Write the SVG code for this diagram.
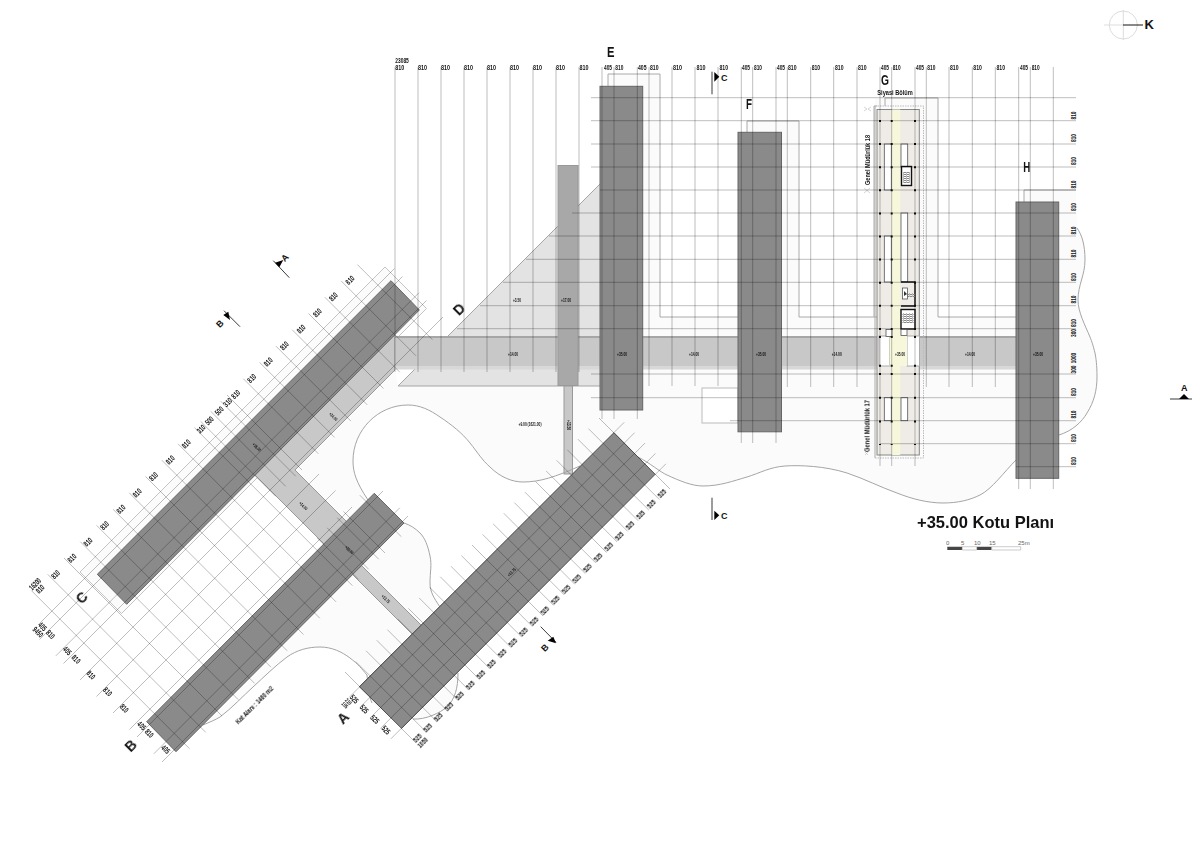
<svg xmlns="http://www.w3.org/2000/svg" width="1200" height="856" viewBox="0 0 1200 856">
<style>
text{font-family:"Liberation Sans",Arial,sans-serif;fill:#111}
#dims-top,#dims-right,#dims-c,#dims-a,#dims-end,#levels,#names,#axis-letters,#section-marks,#compass,#scale{opacity:.99}
.d{font-size:8px;font-weight:700}
.r{font-size:11.3px;font-weight:700;text-anchor:middle}
.h{font-size:14px;font-weight:700}
.t{font-size:4.5px;font-weight:700;text-anchor:middle}
.s{font-size:9px;font-weight:700}
.g{fill:none;stroke:#000;stroke-opacity:.26;stroke-width:1}
.ab{vector-effect:non-scaling-stroke}
.b{fill:#8a8a8a;stroke:#666;stroke-width:1}
.c{fill:#c8c8c8;stroke:#999;stroke-width:1;vector-effect:non-scaling-stroke}
.e{fill:none;stroke:#a5a5a5;stroke-width:1}
.o{fill:none;stroke:#aaa;stroke-width:1}
.w{fill:#fff;stroke:#555;stroke-width:.8}
.k{fill:#fff;stroke:#111;stroke-width:1.4}
.m{fill:none;stroke:#bbb;stroke-width:.6}
.sec{stroke:#222;stroke-width:.9;fill:none}
</style>
<defs>
<pattern id="st" width="3" height="2" patternUnits="userSpaceOnUse"><rect width="3" height="1" fill="#888"/><rect width="1" height="2" fill="#bbb"/></pattern>
</defs>
<rect width="1200" height="856" fill="#fff"/>

<g id="site">
<path fill="#fbfbfb" d="M203 725C210 722 215 720 220 717C232 708 243 696 253 687C265 676 275 666 287 657C297 650 308 647 320 647C332 647 342 652 350 658C358 664 362 669 367 675C368 685 369 697 372 703L400 728L413 719C425 720 440 713 447 707C455 699 458 688 458 673L640 470L638 457C650 463 660 472 667 475C680 481 692 486 703 486C720 486 733 481 747 477C760 473 770 467 785 466C800 465 825 466 847 473C865 479 880 487 897 493C912 499 928 503 943 503C958 503 970 500 980 495C992 489 1004 472 1016 460L1059 435C1072 431 1082 422 1087 413C1094 402 1097 390 1097 377C1097 365 1096 358 1095 353C1093 345 1092 342 1090 337C1085 325 1078 312 1078 300C1078 285 1085 275 1085 260C1085 245 1082 235 1077 228L1076 190L1024 190L1024 202L1016 202L1016 317L938 317L938 98L875 98L875 317L799 317L799 121L747 121L747 132L738 132L738 317L660 317L660 74L608 74L608 86L600 86L600 184L398 386L395 370L295 470L347 522Z"/>
<path fill="#fff" d="M368 500C356 482 353 472 353 461C353 430 378 405 408 405C420 405 430 410 440 417C452 425 462 433 470 443C478 453 482 460 490 467C500 477 512 482 523 482C540 482 555 477 580 466L440 607C434 598 430 592 430 583C430 572 432 565 430 556C428 546 425 538 420 533C415 528 410 525 404 523L374 493Z"/>
<g transform="matrix(.5,.5,.5,-.5,0,0)"><polygon points="652,118 735,118 735,-492 652,-492" fill="#fbfbfb" stroke="#c4c4c4" vector-effect="non-scaling-stroke"/></g>
<polygon points="600,184 398,386 600,386" fill="#e3e3e3"/>
<path class="e" d="M600 184L398 386H600"/>
<rect x="702" y="388" width="36" height="35" fill="#fff" stroke="#bbb"/>
<path class="o" d="M608 86V74H660V317H738M747 132V121H799V317H877M874 106V317M877 106H874M885 106V98H938V317H1016M1024 202V190H1076"/>
</g>

<g id="walkways">
<g transform="matrix(.5,.5,.5,-.5,0,0)">
<polygon class="c" points="730,60 765,25 765,-175 870,-175 870,-220 730,-220"/>
<polygon class="c" points="927,-204 1047,-204 1047,-222 927,-222"/>
</g>
<rect x="395" y="366" width="621" height="3.500" fill="#d8d8d8"/>
<rect x="395" y="336" width="621" height="30" fill="#c8c8c8"/>
<rect x="395" y="336" width="621" height="2" fill="#a6a6a6"/>
<rect x="558" y="165.500" width="20" height="220" fill="#a8a8a8" stroke="#999"/>
<rect x="564" y="386" width="8.500" height="88" fill="#c8c8c8" stroke="#999"/>
</g>

<g id="site-edges">
<path class="e" d="M638 457C650 463 660 472 667 475C680 481 692 486 703 486C720 486 733 481 747 477C760 473 770 467 785 466C800 465 825 466 847 473C865 479 880 487 897 493C912 499 928 503 943 503C958 503 970 500 980 495C992 489 1004 472 1016 460"/>
<path class="e" d="M1059 435C1072 431 1082 422 1087 413C1094 402 1097 390 1097 377C1097 365 1096 358 1095 353C1093 345 1092 342 1090 337C1085 325 1078 312 1078 300C1078 285 1085 275 1085 260C1085 245 1082 235 1077 228"/>
<path class="e" d="M368 500C356 482 353 472 353 461C353 430 378 405 408 405C420 405 430 410 440 417C452 425 462 433 470 443C478 453 482 460 490 467C500 477 512 482 523 482C540 482 555 477 580 466"/>
<path class="e" d="M440 607C434 598 430 592 430 583C430 572 432 565 430 556C428 546 425 538 420 533C415 528 410 525 404 523"/>
<path class="e" d="M203 725C210 722 215 720 220 717C232 708 243 696 253 687C265 676 275 666 287 657C297 650 308 647 320 647C332 647 342 652 350 658C358 664 362 669 367 675C368 685 369 697 372 703"/>
<path class="e" d="M413 719C425 720 440 713 447 707C455 699 458 688 458 673"/>
</g>

<g id="block-c"><polygon class="b" points="391,280.700 419.300,310 126.700,604.300 97.300,574.300"/></g>
<g id="block-b"><polygon class="b" points="374.300,493.300 404,523 176,751.700 146.700,721.700"/></g>
<g id="block-a"><polygon class="b" points="614,432.700 655,474.300 401.700,728.300 359.300,686.700"/></g>
<g id="block-e"><rect class="b" x="600" y="86.300" width="42.700" height="323.700"/></g>
<g id="block-f"><rect class="b" x="738" y="132.300" width="43.500" height="299.500"/></g>
<g id="block-h"><rect class="b" x="1016" y="202" width="42.700" height="276.300"/></g>

<g id="block-g">
<rect x="877" y="109.500" width="42.300" height="345.500" fill="#efebe6" stroke="#888"/>
<rect x="891.700" y="109.500" width="8.500" height="345.500" fill="#f7f7dc"/>
<path d="M875 106V458" stroke="#aaa" fill="none"/>
<path d="M875 106H923.500V458H875" stroke="#bbb" stroke-dasharray="1.500 1" fill="none"/>
<rect x="879" y="336" width="10.500" height="30" fill="#fff" stroke="#aaa"/>
<rect x="907" y="336" width="12.500" height="30" fill="#fff" stroke="#aaa"/>
<rect x="889.500" y="336" width="17.500" height="30" fill="#f7f7dc"/>
<rect class="w" x="884.300" y="144" width="7" height="46"/>
<rect class="w" x="901" y="144" width="6.700" height="23"/>
<rect class="k" x="901.500" y="166.500" width="10" height="19"/>
<rect x="903" y="172" width="7" height="11" fill="url(#st)"/>
<rect class="w" x="901" y="213" width="6.700" height="69"/>
<rect class="w" x="884.300" y="236" width="7" height="46"/>
<path d="M901 282H915V306H901" fill="#efebe6" stroke="#111" stroke-width="1.400"/>
<rect class="w" x="902.500" y="288" width="5" height="11"/>
<path d="M904 291L907 294L904 296Z" fill="#333"/>
<rect x="908" y="293" width="7" height="4" fill="url(#st)"/>
<rect class="k" x="901" y="309.500" width="14" height="19.500"/>
<rect x="902.500" y="313" width="11" height="10" fill="url(#st)"/>
<rect class="w" x="886" y="329.500" width="6" height="7"/>
<rect class="w" x="901" y="329.500" width="6" height="6"/>
<rect class="w" x="884.300" y="397.700" width="7" height="23"/>
<rect class="w" x="901" y="397.700" width="6.700" height="23"/>
<path stroke="#111" stroke-width="2" stroke-dasharray="2 21.100" fill="none" d="M880 120V330M891.700 120V330M915 120V330"/>
<path stroke="#111" stroke-width="2" stroke-dasharray="2 21.700" fill="none" d="M880 373V445M891.700 373V445M915 373V445"/>
<path stroke="#111" stroke-width="2" fill="none" d="M879 365.700h2M890.700 365.700h2M914 365.700h2M879 337h2M890.700 337h2M914 337h2"/>
<path class="m" d="M864 107L867 109L864 111M871 107L868 109L871 111M864 188L870 193M870 188L864 193M865 452L868 455M868 452L865 455"/>
</g>

<g id="grid">
<path class="g" d="M395 67V372M418 67V372M441 67V372M464 67V372M487 67V372M510 67V372M533 67V372M556 67V372M579 67V372M602 67V419M614 67V419M637.300 67V419M649 67V386M672 67V386M695 67V386M718 67V386M741.300 67V443M752.700 67V443M776 67V443M787.300 67V387M810.700 67V387M833.700 67V387M857 67V387M880 67V466M891.700 67V466M915 67V466M926.300 67V387M949 67V387M972.300 67V387M995.300 67V387M1018.700 67V489M1030.300 67V489M1053.300 67V489"/>
<path class="g" d="M591 97.700H1076M591 120.700H1076M591 144H1076M591 167H1076M600 190H1076M572 213H1076M549 236H1076M526 259.300H1076M503 282.300H1076M480 305.700H1076M457 328.700H1076M591 374H1076M591 397.700H1076M730 420.700H1076M880 443.700H1076M1016 466.700H1076"/>
<g transform="matrix(.5,.5,.5,-.5,0,0)">
<path class="g ab" d="M663 -583V126M679 -600V126M711.700 -600V126M727 -600V126M760 -600V126M793 -600V-155M826 -600V-155M859 -600V-155M874 -600V-108M907.600 -600V-108M924 -600V-108"/>
<path class="g ab" d="M622 92.800H772M622 60.200H772M622 27.600H772M622 -5H772M622 -37.600H772M622 -70.200H772M622 -102.800H772M622 -135.400H772M855 -135.400H938M622 -168H772M855 -168H938M622 -180.500H772M855 -180.500H938M622 -200.600H772M855 -200.600H938M622 -220.700H772M855 -220.700H938M622 -233.200H938M622 -265.800H938M622 -298.400H938M622 -331H938M622 -363.600H938M622 -396.200H938M622 -428.800H938M622 -461.400H938M622 -494H938M622 -526.600H938M622 -559.200H938"/>
<path class="g ab" d="M1017 181H1159M1017 159.800H1159M1017 138.700H1159M1017 117.500H1159M1017 96.300H1159M1017 75.200H1159M1017 54H1159M1017 32.800H1159M1017 11.700H1159M1017 -9.500H1159M1017 -30.700H1159M1017 -51.800H1159M1017 -73H1159M1017 -94.200H1159M1017 -115.300H1159M1017 -136.500H1159M1017 -157.700H1159M1017 -178.800H1159M1017 -200H1159M1017 -221.200H1159M1017 -242.300H1159M1017 -263.500H1159M1017 -284.700H1159M1017 -305.800H1159M1017 -327H1159"/>
<path class="g ab" d="M1046.500 -348V202M1067.300 -348V202M1088.100 -348V202M1108.900 -348V202M1129.700 -348V202"/>
</g>
</g>

<g id="section-marks">
<path class="sec" d="M273.300 260.700L289.300 277.700M224 310.700L240 326.700M540.700 626.700L556 642.300M712 71.700V94.300M712 497.700V520M1170 399H1192"/>
<polygon points="275,262.700 283.300,260 279.300,267.300"/>
<polygon points="223.300,315 228.300,311.700 230,320"/>
<polygon points="547.700,640.700 553.300,636.700 556,643.300"/>
<polygon points="714.300,72 714.300,81.700 719.300,76.700"/>
<polygon points="714.300,510.700 714.300,520 719.300,515.300"/>
<polygon points="1179,399 1189,399 1184,394"/>
<text class="s" transform="translate(287 260) rotate(-45)" text-anchor="middle">A</text>
<text class="s" transform="translate(222 326) rotate(-45)" text-anchor="middle">B</text>
<text class="s" transform="translate(547 650) rotate(-45)" text-anchor="middle">B</text>
<text class="s" x="721" y="80.700">C</text>
<text class="s" x="721" y="519.300">C</text>
<text class="s" x="1181" y="391">A</text>
</g>

<g id="compass">
<circle cx="1123.300" cy="25" r="14" fill="none" stroke="#ddd"/>
<path d="M1104 25H1123M1123.300 10V40" stroke="#ddd" fill="none"/>
<path d="M1123 25H1143" stroke="#111" fill="none"/>
<text x="1144.500" y="29" style="font-size:13px;font-weight:700">K</text>
</g>

<g id="axis-letters">
<text class="h" x="607" y="56.700" textLength="7.500" lengthAdjust="spacingAndGlyphs">E</text>
<text class="h" x="746" y="109.300" textLength="6" lengthAdjust="spacingAndGlyphs">F</text>
<text class="h" x="881" y="84.500" textLength="8" lengthAdjust="spacingAndGlyphs">G</text>
<text class="h" x="1023.300" y="172.300" textLength="7" lengthAdjust="spacingAndGlyphs">H</text>
<text class="h" transform="translate(459 309.300) rotate(-45)" text-anchor="middle" dy="5">D</text>
<text class="h" transform="translate(81.700 597.700) rotate(-45)" text-anchor="middle" dy="5">C</text>
<text class="h" transform="translate(130.700 745.700) rotate(-45)" text-anchor="middle" dy="5">B</text>
<text class="h" transform="translate(343 718) rotate(-45)" text-anchor="middle" dy="5">A</text>
</g>

<g id="names">
<text x="877.300" y="95" style="font-size:8px;font-weight:700" textLength="35.500" lengthAdjust="spacingAndGlyphs">Siyasi Bölüm</text>
<text transform="translate(869.500 185) rotate(-90)" style="font-size:7.500px;font-weight:700" textLength="50" lengthAdjust="spacingAndGlyphs">Genel Müdürlük 18</text>
<text transform="translate(869.500 452) rotate(-90)" style="font-size:7.500px;font-weight:700" textLength="52" lengthAdjust="spacingAndGlyphs">Genel Müdürlük 17</text>
<text transform="translate(238.500 724.500) rotate(-45)" style="font-size:7px;font-weight:700" textLength="50" lengthAdjust="spacingAndGlyphs">Kat Alanı : 1460 m2</text>
<text x="917" y="528" style="font-size:16.500px;font-weight:700">+35.00 Kotu Planı</text>
</g>

<g id="scale">
<path fill="#444" d="M947.300 546.700H962.300V550H947.300ZM976.700 546.700H991.700V550H976.700Z"/>
<path fill="#fff" stroke="#aaa" stroke-width=".6" d="M962.300 546.700H976.700V550H962.300ZM991.700 546.700H1020.700V550H991.700Z"/>
<g style="font-size:6px">
<text x="946" y="545" style="fill:#666">0</text><text x="961" y="545" style="fill:#666">5</text><text x="974" y="545" style="fill:#666">10</text><text x="989" y="545" style="fill:#666">15</text><text x="1018" y="545" style="fill:#666">25m</text>
</g>
</g>

<g id="levels">
<text class="t" x="513" y="356" textLength="10" lengthAdjust="spacingAndGlyphs">+14.00</text>
<text class="t" x="622" y="356" textLength="10" lengthAdjust="spacingAndGlyphs">+35.00</text>
<text class="t" x="694" y="356" textLength="10" lengthAdjust="spacingAndGlyphs">+14.00</text>
<text class="t" x="761" y="356" textLength="10" lengthAdjust="spacingAndGlyphs">+35.00</text>
<text class="t" x="836.700" y="356" textLength="10" lengthAdjust="spacingAndGlyphs">+14.00</text>
<text class="t" x="900" y="356" textLength="10" lengthAdjust="spacingAndGlyphs">+35.00</text>
<text class="t" x="970" y="356" textLength="10" lengthAdjust="spacingAndGlyphs">+14.00</text>
<text class="t" x="1038" y="356" textLength="10" lengthAdjust="spacingAndGlyphs">+35.00</text>
<text class="t" x="517" y="302" textLength="8" lengthAdjust="spacingAndGlyphs">+3.50</text>
<text class="t" x="566" y="302" textLength="10" lengthAdjust="spacingAndGlyphs">+17.00</text>
<text class="t" x="530" y="426" textLength="23" lengthAdjust="spacingAndGlyphs">+9.00 (1621.00)</text>
<text class="t" transform="translate(568 425) rotate(90)" dy="1.500" textLength="10" lengthAdjust="spacingAndGlyphs">+13.50</text>
<text class="t" transform="translate(333.300 416.700) rotate(45)" dy="1.500" textLength="10" lengthAdjust="spacingAndGlyphs">+14.00</text>
<text class="t" transform="translate(256.700 447.300) rotate(45)" dy="1.500" textLength="10" lengthAdjust="spacingAndGlyphs">+35.00</text>
<text class="t" transform="translate(303.300 506) rotate(45)" dy="1.500" textLength="10" lengthAdjust="spacingAndGlyphs">+14.00</text>
<text class="t" transform="translate(349.300 550) rotate(45)" dy="1.500" textLength="10" lengthAdjust="spacingAndGlyphs">+35.00</text>
<text class="t" transform="translate(385.700 599) rotate(45)" dy="1.500" textLength="10" lengthAdjust="spacingAndGlyphs">+13.75</text>
<text class="t" transform="translate(511.700 572.300) rotate(-45)" dy="1.500" textLength="10" lengthAdjust="spacingAndGlyphs">+13.75</text>
</g>

<g id="dims-top">
<text class="d" x="395.300" y="62.700" textLength="13.500" lengthAdjust="spacingAndGlyphs">23085</text>
<text class="d" x="395.300" y="70" textLength="9" lengthAdjust="spacingAndGlyphs">810</text>
<text class="d" x="418" y="70" textLength="9" lengthAdjust="spacingAndGlyphs">810</text>
<text class="d" x="441" y="70" textLength="9" lengthAdjust="spacingAndGlyphs">810</text>
<text class="d" x="464" y="70" textLength="9" lengthAdjust="spacingAndGlyphs">810</text>
<text class="d" x="487" y="70" textLength="9" lengthAdjust="spacingAndGlyphs">810</text>
<text class="d" x="510" y="70" textLength="9" lengthAdjust="spacingAndGlyphs">810</text>
<text class="d" x="533" y="70" textLength="9" lengthAdjust="spacingAndGlyphs">810</text>
<text class="d" x="556" y="70" textLength="9" lengthAdjust="spacingAndGlyphs">810</text>
<text class="d" x="579.500" y="70" textLength="9" lengthAdjust="spacingAndGlyphs">810</text>
<text class="d" x="604" y="70" textLength="8" lengthAdjust="spacingAndGlyphs">405</text>
<text class="d" x="615.300" y="70" textLength="8" lengthAdjust="spacingAndGlyphs">810</text>
<text class="d" x="638" y="70" textLength="8.500" lengthAdjust="spacingAndGlyphs">405</text>
<text class="d" x="650" y="70" textLength="8.500" lengthAdjust="spacingAndGlyphs">810</text>
<text class="d" x="673" y="70" textLength="9" lengthAdjust="spacingAndGlyphs">810</text>
<text class="d" x="696.500" y="70" textLength="9" lengthAdjust="spacingAndGlyphs">810</text>
<text class="d" x="719.500" y="70" textLength="8.500" lengthAdjust="spacingAndGlyphs">810</text>
<text class="d" x="742" y="70" textLength="8" lengthAdjust="spacingAndGlyphs">405</text>
<text class="d" x="754" y="70" textLength="8" lengthAdjust="spacingAndGlyphs">810</text>
<text class="d" x="777" y="70" textLength="8" lengthAdjust="spacingAndGlyphs">405</text>
<text class="d" x="788" y="70" textLength="8.500" lengthAdjust="spacingAndGlyphs">810</text>
<text class="d" x="811.700" y="70" textLength="8.500" lengthAdjust="spacingAndGlyphs">810</text>
<text class="d" x="835" y="70" textLength="8.500" lengthAdjust="spacingAndGlyphs">810</text>
<text class="d" x="858" y="70" textLength="8.500" lengthAdjust="spacingAndGlyphs">810</text>
<text class="d" x="881" y="70" textLength="8" lengthAdjust="spacingAndGlyphs">405</text>
<text class="d" x="892.700" y="70" textLength="8" lengthAdjust="spacingAndGlyphs">810</text>
<text class="d" x="916" y="70" textLength="8" lengthAdjust="spacingAndGlyphs">405</text>
<text class="d" x="927.300" y="70" textLength="8" lengthAdjust="spacingAndGlyphs">810</text>
<text class="d" x="950" y="70" textLength="8.500" lengthAdjust="spacingAndGlyphs">810</text>
<text class="d" x="973.300" y="70" textLength="8.500" lengthAdjust="spacingAndGlyphs">810</text>
<text class="d" x="996.500" y="70" textLength="8.500" lengthAdjust="spacingAndGlyphs">810</text>
<text class="d" x="1020" y="70" textLength="8" lengthAdjust="spacingAndGlyphs">405</text>
<text class="d" x="1031.700" y="70" textLength="8" lengthAdjust="spacingAndGlyphs">810</text>
</g>

<g id="dims-right" transform="rotate(-90)">
<text class="d" text-anchor="middle" x="-115.500" y="1076" textLength="8" lengthAdjust="spacingAndGlyphs">810</text>
<text class="d" text-anchor="middle" x="-138" y="1076" textLength="8" lengthAdjust="spacingAndGlyphs">810</text>
<text class="d" text-anchor="middle" x="-161" y="1076" textLength="8" lengthAdjust="spacingAndGlyphs">810</text>
<text class="d" text-anchor="middle" x="-184.500" y="1076" textLength="8" lengthAdjust="spacingAndGlyphs">810</text>
<text class="d" text-anchor="middle" x="-207" y="1076" textLength="8" lengthAdjust="spacingAndGlyphs">810</text>
<text class="d" text-anchor="middle" x="-230.500" y="1076" textLength="8" lengthAdjust="spacingAndGlyphs">810</text>
<text class="d" text-anchor="middle" x="-253.500" y="1076" textLength="8" lengthAdjust="spacingAndGlyphs">810</text>
<text class="d" text-anchor="middle" x="-277" y="1076" textLength="8" lengthAdjust="spacingAndGlyphs">810</text>
<text class="d" text-anchor="middle" x="-299.500" y="1076" textLength="8" lengthAdjust="spacingAndGlyphs">810</text>
<text class="d" text-anchor="middle" x="-323" y="1076" textLength="8" lengthAdjust="spacingAndGlyphs">810</text>
<text class="d" text-anchor="middle" x="-333" y="1076" textLength="8" lengthAdjust="spacingAndGlyphs">300</text>
<text class="d" text-anchor="middle" x="-358" y="1076" textLength="10.500" lengthAdjust="spacingAndGlyphs">1000</text>
<text class="d" text-anchor="middle" x="-369.500" y="1076" textLength="8" lengthAdjust="spacingAndGlyphs">300</text>
<text class="d" text-anchor="middle" x="-392" y="1076" textLength="8" lengthAdjust="spacingAndGlyphs">810</text>
<text class="d" text-anchor="middle" x="-414.500" y="1076" textLength="8" lengthAdjust="spacingAndGlyphs">810</text>
<text class="d" text-anchor="middle" x="-438" y="1076" textLength="8" lengthAdjust="spacingAndGlyphs">810</text>
<text class="d" text-anchor="middle" x="-461" y="1076" textLength="8" lengthAdjust="spacingAndGlyphs">810</text>
</g>

<g id="dims-c" transform="rotate(-45) scale(.7071)">
<text class="r" x="70" y="634" textLength="12.500" lengthAdjust="spacingAndGlyphs">810</text>
<text class="r" x="36.600" y="634" textLength="12.500" lengthAdjust="spacingAndGlyphs">810</text>
<text class="r" x="4.600" y="634" textLength="12.500" lengthAdjust="spacingAndGlyphs">810</text>
<text class="r" x="-28" y="634" textLength="12.500" lengthAdjust="spacingAndGlyphs">810</text>
<text class="r" x="-61.400" y="634" textLength="12.500" lengthAdjust="spacingAndGlyphs">810</text>
<text class="r" x="-93.700" y="634" textLength="12.500" lengthAdjust="spacingAndGlyphs">810</text>
<text class="r" x="-126.600" y="634" textLength="12.500" lengthAdjust="spacingAndGlyphs">810</text>
<text class="r" x="-158.600" y="634" textLength="12.500" lengthAdjust="spacingAndGlyphs">810</text>
<text class="r" x="-174.600" y="634" textLength="12.500" lengthAdjust="spacingAndGlyphs">310</text>
<text class="r" x="-191.700" y="634" textLength="12.500" lengthAdjust="spacingAndGlyphs">500</text>
<text class="r" x="-211.400" y="634" textLength="12.500" lengthAdjust="spacingAndGlyphs">500</text>
<text class="r" x="-228" y="634" textLength="12.500" lengthAdjust="spacingAndGlyphs">310</text>
<text class="r" x="-257.700" y="634" textLength="12.500" lengthAdjust="spacingAndGlyphs">810</text>
<text class="r" x="-289.700" y="634" textLength="12.500" lengthAdjust="spacingAndGlyphs">810</text>
<text class="r" x="-323" y="634" textLength="12.500" lengthAdjust="spacingAndGlyphs">810</text>
<text class="r" x="-355.700" y="634" textLength="12.500" lengthAdjust="spacingAndGlyphs">810</text>
<text class="r" x="-388.300" y="634" textLength="12.500" lengthAdjust="spacingAndGlyphs">810</text>
<text class="r" x="-421" y="634" textLength="12.500" lengthAdjust="spacingAndGlyphs">810</text>
<text class="r" x="-454" y="634" textLength="12.500" lengthAdjust="spacingAndGlyphs">810</text>
<text class="r" x="-486.300" y="634" textLength="12.500" lengthAdjust="spacingAndGlyphs">810</text>
<text class="r" x="-519" y="634" textLength="12.500" lengthAdjust="spacingAndGlyphs">810</text>
<text class="r" x="-549" y="633" textLength="12.500" lengthAdjust="spacingAndGlyphs">810</text>
<text class="r" x="-549" y="623" textLength="19" lengthAdjust="spacingAndGlyphs">16200</text>
</g>

<g id="dims-a" transform="rotate(-45) scale(.7071)">
<text class="r" x="168.400" y="1159" textLength="12.500" lengthAdjust="spacingAndGlyphs">525</text>
<text class="r" x="147.100" y="1159" textLength="12.500" lengthAdjust="spacingAndGlyphs">525</text>
<text class="r" x="125.800" y="1159" textLength="12.500" lengthAdjust="spacingAndGlyphs">525</text>
<text class="r" x="104.500" y="1159" textLength="12.500" lengthAdjust="spacingAndGlyphs">525</text>
<text class="r" x="83.200" y="1159" textLength="12.500" lengthAdjust="spacingAndGlyphs">525</text>
<text class="r" x="61.900" y="1159" textLength="12.500" lengthAdjust="spacingAndGlyphs">525</text>
<text class="r" x="40.600" y="1159" textLength="12.500" lengthAdjust="spacingAndGlyphs">525</text>
<text class="r" x="19.300" y="1159" textLength="12.500" lengthAdjust="spacingAndGlyphs">525</text>
<text class="r" x="-2" y="1159" textLength="12.500" lengthAdjust="spacingAndGlyphs">525</text>
<text class="r" x="-23.300" y="1159" textLength="12.500" lengthAdjust="spacingAndGlyphs">525</text>
<text class="r" x="-44.600" y="1159" textLength="12.500" lengthAdjust="spacingAndGlyphs">525</text>
<text class="r" x="-65.900" y="1159" textLength="12.500" lengthAdjust="spacingAndGlyphs">525</text>
<text class="r" x="-87.200" y="1159" textLength="12.500" lengthAdjust="spacingAndGlyphs">525</text>
<text class="r" x="-108.500" y="1159" textLength="12.500" lengthAdjust="spacingAndGlyphs">525</text>
<text class="r" x="-129.800" y="1159" textLength="12.500" lengthAdjust="spacingAndGlyphs">525</text>
<text class="r" x="-151.100" y="1159" textLength="12.500" lengthAdjust="spacingAndGlyphs">525</text>
<text class="r" x="-172.400" y="1159" textLength="12.500" lengthAdjust="spacingAndGlyphs">525</text>
<text class="r" x="-193.700" y="1159" textLength="12.500" lengthAdjust="spacingAndGlyphs">525</text>
<text class="r" x="-215" y="1159" textLength="12.500" lengthAdjust="spacingAndGlyphs">525</text>
<text class="r" x="-236.300" y="1159" textLength="12.500" lengthAdjust="spacingAndGlyphs">525</text>
<text class="r" x="-257.600" y="1159" textLength="12.500" lengthAdjust="spacingAndGlyphs">525</text>
<text class="r" x="-278.900" y="1159" textLength="12.500" lengthAdjust="spacingAndGlyphs">525</text>
<text class="r" x="-300.200" y="1159" textLength="12.500" lengthAdjust="spacingAndGlyphs">525</text>
<text class="r" x="-320.600" y="1159" textLength="12.500" lengthAdjust="spacingAndGlyphs">525</text>
<text class="r" x="-320" y="1169" textLength="16" lengthAdjust="spacingAndGlyphs">1050</text>
</g>

<g id="dims-end" transform="rotate(45) scale(.7071)">
<text class="r" x="669" y="588" textLength="12.500" lengthAdjust="spacingAndGlyphs">405</text>
<text class="r" x="670" y="598" textLength="16" lengthAdjust="spacingAndGlyphs">9450</text>
<text class="r" x="685" y="588" textLength="12.500" lengthAdjust="spacingAndGlyphs">810</text>
<text class="r" x="718" y="587.400" textLength="12.500" lengthAdjust="spacingAndGlyphs">405</text>
<text class="r" x="735.300" y="587" textLength="12.500" lengthAdjust="spacingAndGlyphs">810</text>
<text class="r" x="766" y="588" textLength="12.500" lengthAdjust="spacingAndGlyphs">810</text>
<text class="r" x="799.400" y="588" textLength="12.500" lengthAdjust="spacingAndGlyphs">810</text>
<text class="r" x="832.600" y="588" textLength="12.500" lengthAdjust="spacingAndGlyphs">810</text>
<text class="r" x="867.400" y="588" textLength="12.500" lengthAdjust="spacingAndGlyphs">405</text>
<text class="r" x="882.600" y="588" textLength="12.500" lengthAdjust="spacingAndGlyphs">810</text>
<text class="r" x="915" y="587.600" textLength="12.500" lengthAdjust="spacingAndGlyphs">405</text>
<text class="r" x="1053.300" y="348.700" textLength="12.500" lengthAdjust="spacingAndGlyphs">525</text>
<text class="r" x="1073.300" y="348.700" textLength="12.500" lengthAdjust="spacingAndGlyphs">525</text>
<text class="r" x="1094.300" y="348.300" textLength="12.500" lengthAdjust="spacingAndGlyphs">525</text>
<text class="r" x="1116" y="348" textLength="12.500" lengthAdjust="spacingAndGlyphs">525</text>
<text class="r" x="1050" y="356" style="font-size:8px" textLength="10" lengthAdjust="spacingAndGlyphs">210</text>
<text class="r" x="1050" y="363" style="font-size:8px" textLength="10" lengthAdjust="spacingAndGlyphs">105</text>
</g>
</svg>
